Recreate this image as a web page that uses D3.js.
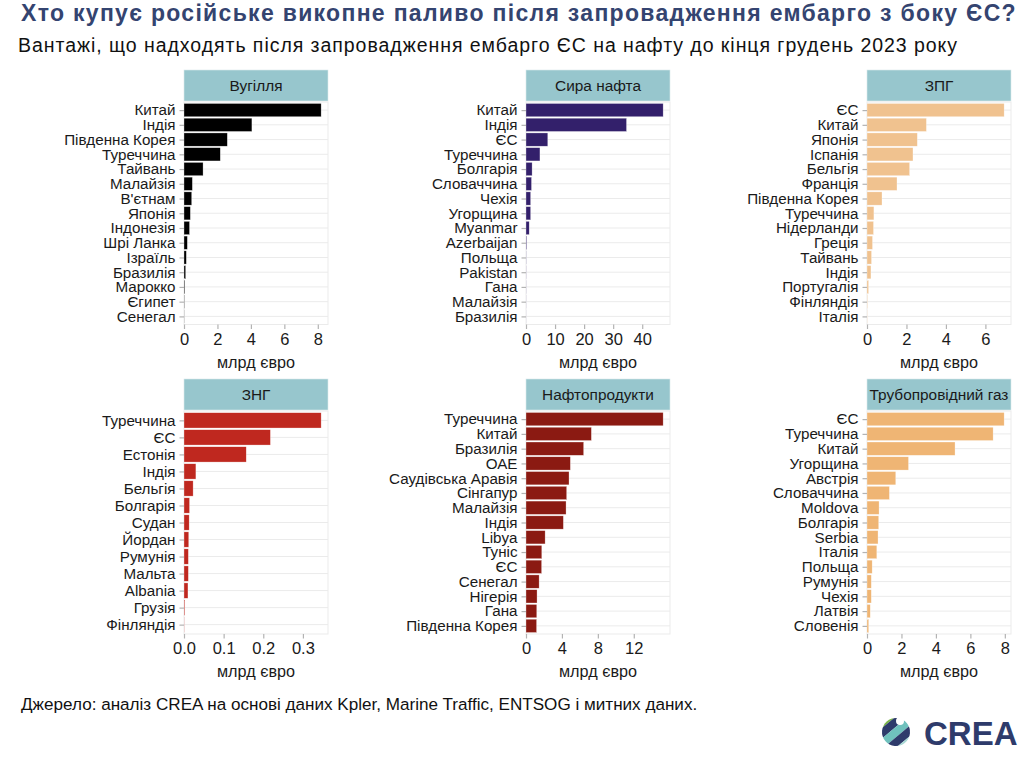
<!DOCTYPE html>
<html>
<head>
<meta charset="utf-8">
<script src="https://cdn.jsdelivr.net/npm/d3@7"></script>
<style>
  body { margin: 0; background: #fff; }
  svg text { font-family: "Liberation Sans", Arial, sans-serif; }
</style>
</head>
<body>
<div id="chart"></div>
<script>
// values, bn EUR
var coalCountries = ["Китай", "Індія", "Південна Корея", "Туреччина", "Тайвань", "Малайзія", "В'єтнам", "Японія", "Індонезія", "Шрі Ланка", "Ізраїль", "Бразилія", "Марокко", "Єгипет", "Сенегал"];
var coalValues = [8.2, 4.06, 2.59, 2.17, 1.14, 0.5, 0.46, 0.38, 0.33, 0.2, 0.14, 0.1, 0.04, 0.02, 0.01];
var coalTicks = [0, 2, 4, 6, 8];

var crudeCountries = ["Китай", "Індія", "ЄС", "Туреччина", "Болгарія", "Словаччина", "Чехія", "Угорщина", "Myanmar", "Azerbaijan", "Польща", "Pakistan", "Гана", "Малайзія", "Бразилія"];
var crudeValues = [47.2, 34.6, 7.5, 4.8, 2.1, 1.9, 1.6, 1.6, 1.1, 0.2, 0.06, 0.05, 0.04, 0.03, 0.02];
var crudeTicks = [0, 10, 20, 30, 40];

var lngCountries = ["ЄС", "Китай", "Японія", "Іспанія", "Бельгія", "Франція", "Південна Корея", "Туреччина", "Нідерланди", "Греція", "Тайвань", "Індія", "Португалія", "Фінляндія", "Італія"];
var lngValues = [6.95, 3.01, 2.55, 2.33, 2.16, 1.52, 0.76, 0.35, 0.33, 0.28, 0.23, 0.2, 0.08, 0.02, 0.01];
var lngTicks = [0, 2, 4, 6];

var lpgCountries = ["Туреччина", "ЄС", "Естонія", "Індія", "Бельгія", "Болгарія", "Судан", "Йордан", "Румунія", "Мальта", "Albania", "Грузія", "Фінляндія"];
var lpgValues = [0.346, 0.218, 0.157, 0.030, 0.023, 0.014, 0.013, 0.012, 0.011, 0.011, 0.010, 0.002, 0.0005];
var lpgTicks = [0, 0.1, 0.2, 0.3];

var productsCountries = ["Туреччина", "Китай", "Бразилія", "ОАЕ", "Саудівська Аравія", "Сінгапур", "Малайзія", "Індія", "Libya", "Туніс", "ЄС", "Сенегал", "Нігерія", "Гана", "Південна Корея"];
var productsValues = [15.27, 7.28, 6.42, 4.94, 4.79, 4.53, 4.46, 4.16, 2.13, 1.76, 1.74, 1.46, 1.23, 1.2, 1.18];
var productsTicks = [0, 4, 8, 12];

var pipelineCountries = ["ЄС", "Туреччина", "Китай", "Угорщина", "Австрія", "Словаччина", "Moldova", "Болгарія", "Serbia", "Італія", "Польща", "Румунія", "Чехія", "Латвія", "Словенія"];
var pipelineValues = [7.96, 7.32, 5.11, 2.41, 1.67, 1.3, 0.7, 0.68, 0.64, 0.57, 0.3, 0.25, 0.25, 0.19, 0.1];
var pipelineTicks = [0, 2, 4, 6, 8];

var W = 1024, H = 768;
var svg = d3.select("#chart").append("svg").attr("width", W).attr("height", H);

/**
 * Spread a text's letters so it spans the given width
 */
function fitWidth(sel, width) {
	var txt = sel.text();
	var len = sel.node().getComputedTextLength();
	sel.attr("letter-spacing", ((width - len) / txt.length).toFixed(3));
}

/**
 * One facet: strip on top, horizontal bars below
 */
function panel(opt) {
	var g = svg.append("g");
	var left = opt.left, top = opt.top, w = 144, h = opt.height;

	// strip
	g.append("rect")
		.attr("x", left).attr("y", top - 32)
		.attr("width", w).attr("height", 31)
		.attr("fill", "#97c6cd").attr("stroke", "#d9e9ec").attr("stroke-width", 0.6);
	g.append("text")
		.attr("x", left + w / 2).attr("y", top - 16.5)
		.attr("text-anchor", "middle").attr("dominant-baseline", "central")
		.attr("font-size", 15.4).attr("fill", "#1a1a1a")
		.text(opt.title);

	var x = d3.scaleLinear().domain([0, d3.max(opt.values) * 1.05]).range([left, left + w]);
	var y = d3.scalePoint().domain(opt.countries).range([top, top + h]).padding(0.55);
	var bh = y.step() * 0.9;

	// panel border + grid
	g.append("rect")
		.attr("x", left).attr("y", top).attr("width", w).attr("height", h)
		.attr("fill", "#fff").attr("stroke", "#ebebeb").attr("stroke-width", 1);
	g.selectAll(".grid").data(opt.countries).enter().append("line")
		.attr("x1", left).attr("x2", left + w)
		.attr("y1", function(d){ return y(d); }).attr("y2", function(d){ return y(d); })
		.attr("stroke", "#ebebeb").attr("stroke-width", 1);

	g.selectAll(".bar").data(opt.values).enter().append("rect")
		.attr("x", x(0))
		.attr("y", function(d, i){ return y(opt.countries[i]) - bh / 2; })
		.attr("width", function(d){ return x(d) - x(0); })
		.attr("height", bh)
		.attr("fill", opt.color)
		.attr("stroke", "#fff").attr("stroke-width", 0.5).attr("stroke-opacity", 0.6);

	var ya = g.append("g").attr("transform", "translate(" + left + ",0)")
		.call(d3.axisLeft(y).tickSize(4.5).tickPadding(4));
	var xa = g.append("g").attr("transform", "translate(0," + (top + h) + ")")
		.call(d3.axisBottom(x).tickValues(opt.ticks).tickFormat(opt.fmt || d3.format("d")).tickSize(4.5).tickPadding(4));
	[ya, xa].forEach(function(a){
		a.select(".domain").remove();
		a.selectAll(".tick line").attr("stroke", "#b3b3b3").attr("stroke-width", 1.2);
		a.selectAll(".tick text").attr("fill", "#1a1a1a").style("font-family", "Liberation Sans, Arial, sans-serif");
	});
	ya.selectAll(".tick text").attr("font-size", 15.2);
	xa.selectAll(".tick text").attr("font-size", 16.5);

	g.append("text")
		.attr("x", left + w / 2).attr("y", top + h + 43)
		.attr("text-anchor", "middle").attr("font-size", 16.2).attr("fill", "#1a1a1a")
		.text("млрд євро");
}

panel({ title: "Вугілля", countries: coalCountries, values: coalValues, ticks: coalTicks, color: "#000000", left: 184, top: 102, height: 222.5 });
panel({ title: "Сира нафта", countries: crudeCountries, values: crudeValues, ticks: crudeTicks, color: "#33206b", left: 526, top: 102, height: 222.5 });
panel({ title: "ЗПГ", countries: lngCountries, values: lngValues, ticks: lngTicks, color: "#f0c28f", left: 867, top: 102, height: 222.5 });
panel({ title: "ЗНГ", countries: lpgCountries, values: lpgValues, ticks: lpgTicks, color: "#bf281f", left: 184, top: 411, height: 223, fmt: d3.format(".1f") });
panel({ title: "Нафтопродукти", countries: productsCountries, values: productsValues, ticks: productsTicks, color: "#8b1a12", left: 526, top: 411, height: 223 });
panel({ title: "Трубопровідний газ", countries: pipelineCountries, values: pipelineValues, ticks: pipelineTicks, color: "#efb574", left: 867, top: 411, height: 223 });

// titles
var title = svg.append("text").attr("x", 21).attr("y", 21)
	.attr("font-size", 23).attr("font-weight", "bold").attr("fill", "#344470")
	.text("Хто купує російське викопне паливо після запровадження ембарго з боку ЄС?");
fitWidth(title, 996);
var subtitle = svg.append("text").attr("x", 18).attr("y", 52)
	.attr("font-size", 19.5).attr("fill", "#111")
	.text("Вантажі, що надходять після запровадження ембарго ЄС на нафту до кінця грудень 2023 року");
fitWidth(subtitle, 940);
svg.append("text").attr("x", 21).attr("y", 710)
	.attr("font-size", 17.1).attr("fill", "#111")
	.text("Джерело: аналіз CREA на основі даних Kpler, Marine Traffic, ENTSOG і митних даних.");

// logo
var logo = svg.append("g").attr("transform", "translate(896,732)");
logo.append("clipPath").attr("id", "lc").append("circle").attr("r", 14);
var stripes = logo.append("g").attr("clip-path", "url(#lc)").attr("transform", "rotate(-40)");
[["#7ab648", -16], ["#2e3b6b", -8], ["#6fc1bd", 0], ["#2e3b6b", 8], ["#a8d8d4", 16]].forEach(function(s){
	stripes.append("rect").attr("x", -20).attr("y", s[1] - 4).attr("width", 40).attr("height", 8).attr("fill", s[0]);
});
logo.append("circle").attr("r", 4).attr("cx", 4).attr("cy", -11).attr("fill", "#fff");
svg.append("text").attr("x", 924).attr("y", 745)
	.attr("font-size", 33).attr("font-weight", "bold").attr("fill", "#2e3b6b")
	.text("CREA");
</script>
</body>
</html>
